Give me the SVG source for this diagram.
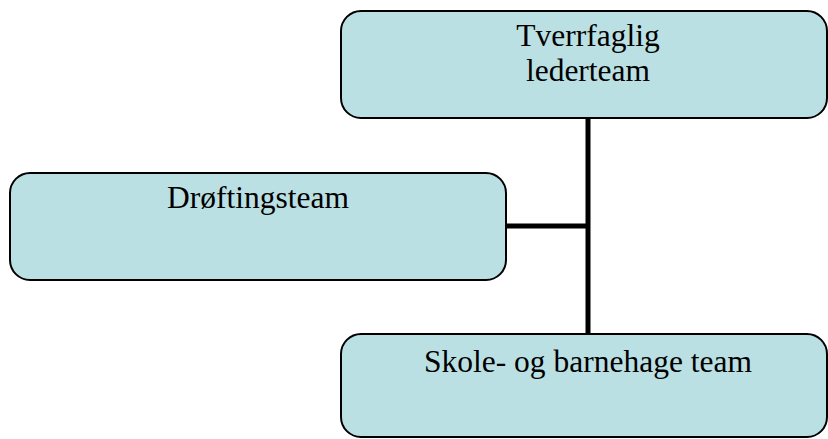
<svg xmlns="http://www.w3.org/2000/svg" width="828" height="439" viewBox="0 0 828 439">
<style>
.box{fill:#bbe0e3;stroke:#000;stroke-width:2}
.lbl{font-family:"Liberation Serif","Times New Roman",serif;font-size:31.5px;fill:#000;text-anchor:middle}
.conn{stroke:#000;stroke-width:5;fill:none}
</style>
<rect width="828" height="439" fill="#fff"/>
<g id="connectors">
<line class="conn" x1="588" y1="118" x2="588" y2="334"/>
<line class="conn" x1="506" y1="226" x2="588" y2="226"/>
</g>
<g id="node-tverrfaglig">
<rect class="box" x="341" y="11" width="486" height="107" rx="20"/>
<text class="lbl" x="588" y="46">Tverrfaglig</text>
<text class="lbl" x="588" y="81">lederteam</text>
</g>
<g id="node-drofting">
<rect class="box" x="10" y="173" width="496" height="107" rx="20"/>
<text class="lbl" x="258" y="208">Drøftingsteam</text>
</g>
<g id="node-skole">
<rect class="box" x="341" y="334" width="486" height="103" rx="20"/>
<text class="lbl" x="588" y="372">Skole- og barnehage team</text>
</g>
</svg>
